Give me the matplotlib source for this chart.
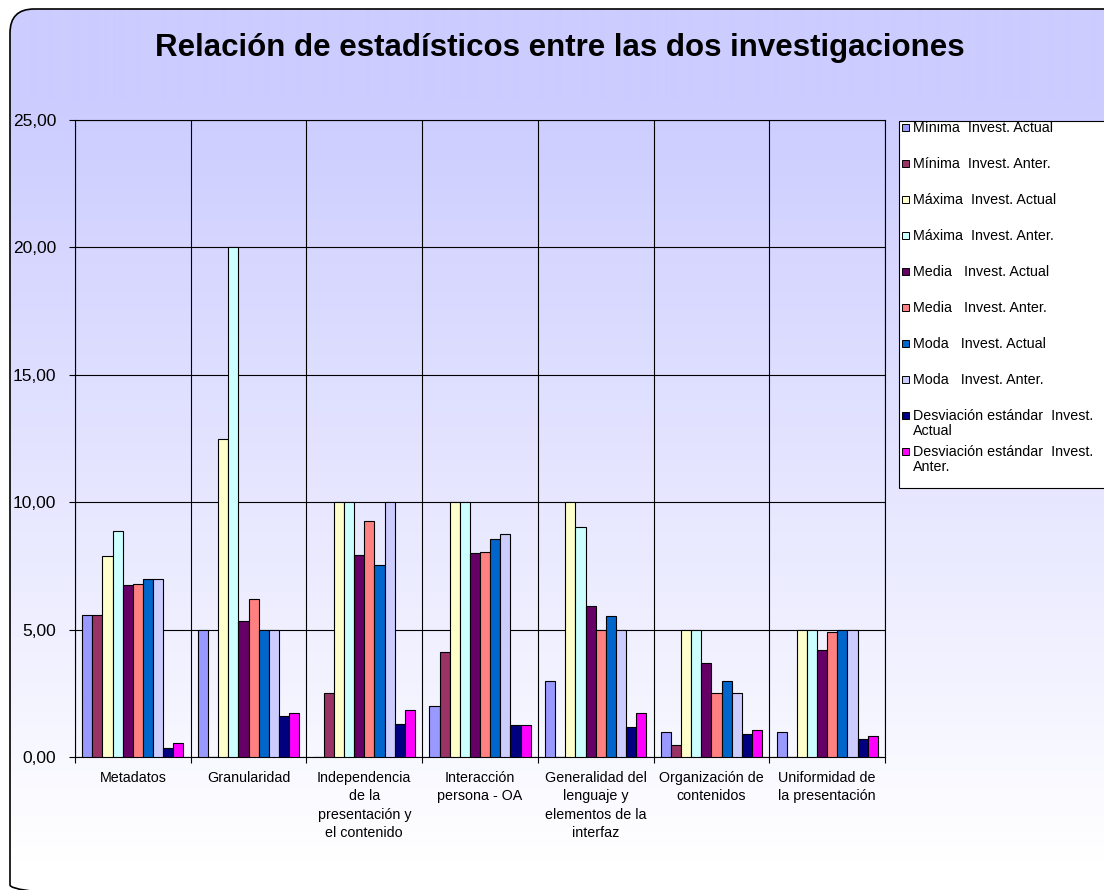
import numpy as np
import matplotlib
matplotlib.use('Agg')
import matplotlib.pyplot as plt
from matplotlib.patches import FancyBboxPatch, Rectangle
from matplotlib.ticker import FixedLocator

plt.rcParams['font.family'] = ['Liberation Sans', 'DejaVu Sans']

# categories and series
categories = ['Metadatos', 'Granularidad',
              'Independencia\nde la\npresentación y\nel contenido',
              'Interacción\npersona - OA',
              'Generalidad del\nlenguaje y\nelementos de la\ninterfaz',
              'Organización de\ncontenidos',
              'Uniformidad de\nla presentación']

minima_actual = [5.57, 5.00, 0.00, 2.00, 3.00, 1.00, 1.00]
minima_anter = [5.57, 0.00, 2.50, 4.13, 0.00, 0.46, 0.00]
maxima_actual = [7.89, 12.50, 10.00, 10.00, 10.00, 5.00, 5.00]
maxima_anter = [8.86, 20.00, 10.00, 10.00, 9.03, 5.00, 5.00]
media_actual = [6.74, 5.33, 7.91, 8.00, 5.91, 3.70, 4.21]
media_anter = [6.79, 6.21, 9.27, 8.06, 5.00, 2.50, 4.90]
moda_actual = [6.97, 5.00, 7.53, 8.55, 5.52, 3.00, 5.00]
moda_anter = [6.97, 5.00, 10.00, 8.74, 5.00, 2.50, 5.00]
desv_actual = [0.37, 1.59, 1.29, 1.24, 1.18, 0.90, 0.72]
desv_anter = [0.54, 1.73, 1.83, 1.24, 1.73, 1.06, 0.82]

series_labels = ['Mínima  Invest. Actual', 'Mínima  Invest. Anter.',
                 'Máxima  Invest. Actual', 'Máxima  Invest. Anter.',
                 'Media   Invest. Actual', 'Media   Invest. Anter.',
                 'Moda   Invest. Actual', 'Moda   Invest. Anter.',
                 'Desviación estándar  Invest.\nActual',
                 'Desviación estándar  Invest.\nAnter.']
series_colors = ['#9999FF', '#993366', '#FFFFCC', '#CCFFFF', '#660066',
                 '#FF8080', '#0066CC', '#CCCCFF', '#000080', '#FF00FF']

y_ticks = [0, 5, 10, 15, 20, 25]

series = [minima_actual, minima_anter, maxima_actual, maxima_anter,
          media_actual, media_anter, moda_actual, moda_anter,
          desv_actual, desv_anter]

W, H = 1104, 890
fig = plt.figure(figsize=(W / 100, H / 100), dpi=100)

# background: lavender -> white gradient inside a rounded frame
bg = fig.add_axes([0, 0, 1, 1], zorder=-10)
bg.set_xlim(0, W)
bg.set_ylim(H, 0)
bg.axis('off')
rows = np.arange(H)
t = np.clip((rows - 100) / 760.0, 0, 1)[:, None]
top_c = np.array([0xCC, 0xCC, 0xFF]) / 255.0
grad = top_c * (1 - t) + np.ones(3) * t
grad = np.repeat(grad[:, None, :], 2, axis=1)
frame = FancyBboxPatch((10, 9), 1130, 900, boxstyle='round,pad=0,rounding_size=24',
                       facecolor='none', edgecolor='black', lw=1.2)
img = bg.imshow(grad, extent=[0, W, H, 0], aspect='auto', interpolation='bilinear')
bg.add_patch(frame)
img.set_clip_path(frame)

fig.text(560 / W, 1 - 48 / H, 'Relación de estadísticos entre las dos investigaciones',
         ha='center', va='center', fontsize=22.5, fontweight='bold')

# plot area
ax = fig.add_axes([75 / W, 1 - 757 / H, 810 / W, 637 / H])
ax.patch.set_alpha(0)
x = np.arange(len(categories))
w = 0.0875
for j, (vals, col) in enumerate(zip(series, series_colors)):
    ax.bar(x + (j - 4.5) * w, vals, w, color=col, edgecolor='black', lw=0.8, zorder=3)

ax.set_xlim(-0.5, len(categories) - 0.5)
ax.set_ylim(0, 25)
ax.set_yticks(y_ticks)
ax.set_yticklabels([f'{v:.2f}'.replace('.', ',') for v in y_ticks], fontsize=12.5)
ax.set_xticks(x)
ax.set_xticklabels(categories, fontsize=10.3, linespacing=1.4)
ax.xaxis.set_minor_locator(FixedLocator(np.arange(len(categories) + 1) - 0.5))
ax.tick_params(axis='x', which='major', length=0, pad=10)
ax.tick_params(axis='x', which='minor', length=4.5, direction='out', width=0.8)
ax.tick_params(axis='y', length=4.5, direction='out', pad=9, width=0.8)
ax.grid(axis='y', which='major', color='black', lw=0.8, zorder=1)
ax.grid(axis='x', which='minor', color='black', lw=0.8, zorder=1)
for s in ax.spines.values():
    s.set_linewidth(0.8)

# legend box
bg.add_patch(Rectangle((899, 121), 230, 367, facecolor='white', edgecolor='black', lw=0.8))
for i, (lab, col) in enumerate(zip(series_labels, series_colors)):
    yc = 128 + 36 * i
    bg.add_patch(Rectangle((902, yc - 4), 7, 7, facecolor=col, edgecolor='black', lw=0.7))
    bg.text(913, yc - 7.5, lab, fontsize=10.3, va='top', ha='left', linespacing=1.1)

fig.savefig('out.png', dpi=100)
